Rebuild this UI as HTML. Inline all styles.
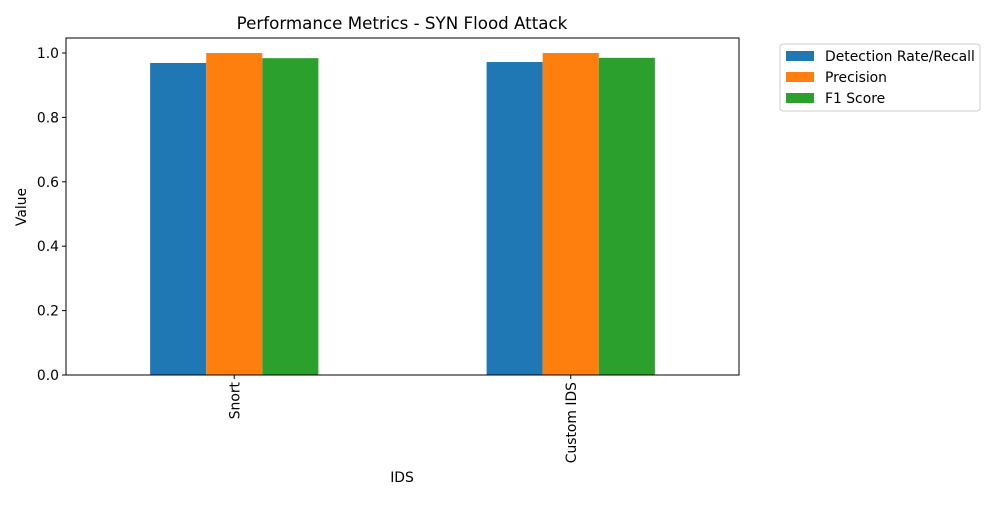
<!DOCTYPE html>
<html><head><meta charset="utf-8"><style>
body{margin:0;background:#fff;font-family:"Liberation Sans","DejaVu Sans",sans-serif}
</style></head><body>
<svg width="1000" height="500" viewBox="0 0 1000 500" xmlns="http://www.w3.org/2000/svg" font-family="DejaVu Sans, Liberation Sans, sans-serif">
<text x="402" y="29" text-anchor="middle" font-size="16.7" fill="#000">Performance Metrics - SYN Flood Attack</text>
<g id="bars"></g>
<g id="yticks"></g>
<g id="xticks"></g>
<rect x="66" y="38" width="673" height="337" fill="none" stroke="#000" stroke-width="1"/>
<text x="402" y="482" text-anchor="middle" font-size="13.9">IDS</text>
<text transform="translate(26,207) rotate(-90)" text-anchor="middle" font-size="13.9">Value</text>
<g>
<rect x="780" y="44" width="200" height="67" rx="3" fill="#fff" stroke="#ccc"/>
<g id="legend"></g>
</g>
</svg>
<script>
const categories=["Snort","Custom IDS"];
const seriesNames=["Detection Rate/Recall","Precision","F1 Score"];
const recall=[0.969,0.972];
const precision=[1.0,1.0];
const f1=[0.984,0.985];
const yTicks=[0,0.2,0.4,0.6,0.8,1.0];
const colors=["#1f77b4","#ff7f0e","#2ca02c"];
const series=[recall,precision,f1];
const NS="http://www.w3.org/2000/svg";
const X0=66,W=673,Y0=375,YS=322;
const y=v=>Y0-v*YS;
const band=W/categories.length;
const bw=band*0.5/3;
function mk(t,a,p){const e=document.createElementNS(NS,t);for(const k in a)e.setAttribute(k,a[k]);p.appendChild(e);return e;}
const gb=document.getElementById('bars');
series.forEach((s,si)=>{s.forEach((v,ci)=>{
 const cx=X0+band*(ci+0.5);
 const r=mk('rect',{x:cx-1.5*bw+si*bw,y:y(v),width:bw,height:Y0-y(v),fill:colors[si]},gb);
 
 
});});
const gy=document.getElementById('yticks');
yTicks.forEach(t=>{
 const l=mk('line',{x1:X0-4,x2:X0,y1:y(t),y2:y(t),stroke:'#000'},gy);
 
 
 const tx=mk('text',{x:X0-7,y:y(t)+5,'text-anchor':'end','font-size':'13.9'},gy);
 tx.textContent=t.toFixed(1);
 
 
});
const gx=document.getElementById('xticks');
categories.forEach((c,ci)=>{
 const cx=X0+band*(ci+0.5);
 const l=mk('line',{x1:cx,x2:cx,y1:Y0,y2:Y0+4,stroke:'#000'},gx);
 
 
 const tx=mk('text',{transform:`translate(${cx+5},${Y0+7}) rotate(-90)`,'text-anchor':'end','font-size':'13.9'},gx);
 tx.textContent=c;
 
 
});
const gl=document.getElementById('legend');
seriesNames.forEach((n,i)=>{
 const yy=56+i*21;
 const r=mk('rect',{x:786,y:yy-5,width:28,height:10,fill:colors[i]},gl);
 
 
 const t=mk('text',{x:825,y:yy+5,'font-size':'13.9'},gl);
 t.textContent=n;
 
 
});
</script>
</body></html>
